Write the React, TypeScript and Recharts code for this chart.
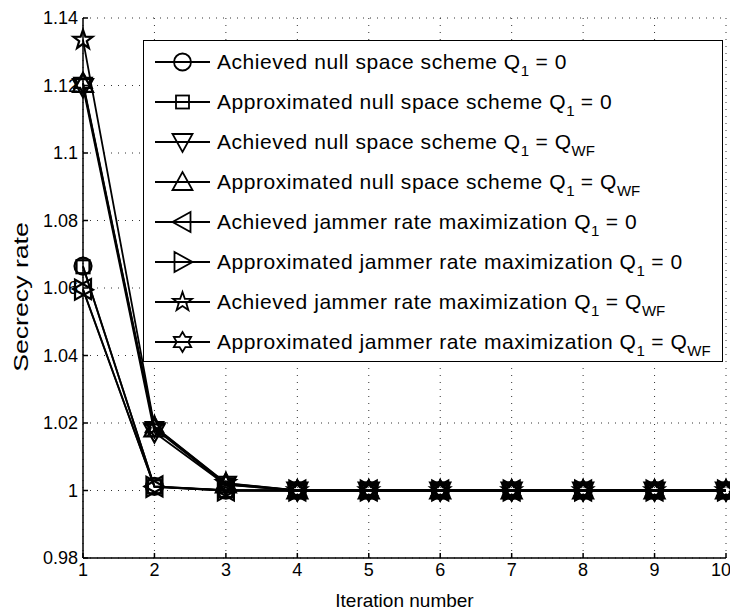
import { LineChart, Line, XAxis, YAxis, CartesianGrid, Legend } from 'recharts';

const iterations = [1, 2, 3, 4, 5, 6, 7, 8, 9, 10];

// secrecy rate per iteration, one array per curve
const achievedNullZero = [1.0665, 1.0012, 1.0001, 1, 1, 1, 1, 1, 1, 1];
const approxNullZero = [1.0663, 1.0011, 1.0, 1, 1, 1, 1, 1, 1, 1];
const achievedNullWF = [1.1195, 1.0172, 1.0017, 1, 1, 1, 1, 1, 1, 1];
const approxNullWF = [1.1205, 1.0184, 1.0018, 1, 1, 1, 1, 1, 1, 1];
const achievedJamZero = [1.0597, 1.0012, 1.0, 1, 1, 1, 1, 1, 1, 1];
const approxJamZero = [1.0595, 1.0011, 1.0, 1, 1, 1, 1, 1, 1, 1];
const achievedJamWF = [1.1335, 1.019, 1.0022, 1, 1, 1, 1, 1, 1, 1];
const approxJamWF = [1.1208, 1.0188, 1.0021, 1, 1, 1, 1, 1, 1, 1];

const yTicks = [0.98, 1, 1.02, 1.04, 1.06, 1.08, 1.1, 1.12, 1.14];

const seriesValues = [
  achievedNullZero,
  approxNullZero,
  achievedNullWF,
  approxNullWF,
  achievedJamZero,
  approxJamZero,
  achievedJamWF,
  approxJamWF,
];
const seriesNames = [
  'Achieved null space scheme',
  'Approximated null space scheme',
  'Achieved null space scheme',
  'Approximated null space scheme',
  'Achieved jammer rate maximization',
  'Approximated jammer rate maximization',
  'Achieved jammer rate maximization',
  'Approximated jammer rate maximization',
];
const seriesQ = ['0', '0', 'WF', 'WF', '0', '0', 'WF', 'WF'];
const seriesShapes = ['circle', 'square', 'down', 'up', 'left', 'right', 'pentagram', 'hexagram'];

const data = iterations.map((it, i) => {
  const row: Record<string, number> = { it };
  seriesValues.forEach((vals, k) => {
    row['s' + k] = vals[i];
  });
  return row;
});

const FONT = '"Liberation Sans", Arial, Helvetica, sans-serif';
const SW = 1.8;

function starPoints(cx: number, cy: number, n: number, ro: number, ri: number) {
  const pts: string[] = [];
  for (let i = 0; i < n * 2; i++) {
    const r = i % 2 === 0 ? ro : ri;
    const a = -Math.PI / 2 + (i * Math.PI) / n;
    pts.push(`${cx + r * Math.cos(a)},${cy + r * Math.sin(a)}`);
  }
  return pts.join(' ');
}

function Marker({ shape, cx, cy, sw = SW }: { shape: string; cx: number; cy: number; sw?: number }) {
  const st = { fill: 'none', stroke: '#000', strokeWidth: sw };
  switch (shape) {
    case 'circle':
      return <circle cx={cx} cy={cy} r={8.5} {...st} />;
    case 'square':
      return <rect x={cx - 6.5} y={cy - 6.5} width={13} height={13} {...st} />;
    case 'down':
      return <polygon points={`${cx - 10},${cy - 8} ${cx + 10},${cy - 8} ${cx},${cy + 10}`} {...st} />;
    case 'up':
      return <polygon points={`${cx - 10},${cy + 8} ${cx + 10},${cy + 8} ${cx},${cy - 10}`} {...st} />;
    case 'left':
      return <polygon points={`${cx + 8},${cy - 10} ${cx + 8},${cy + 10} ${cx - 10},${cy}`} {...st} />;
    case 'right':
      return <polygon points={`${cx - 8},${cy - 10} ${cx - 8},${cy + 10} ${cx + 10},${cy}`} {...st} />;
    case 'pentagram':
      return <polygon points={starPoints(cx, cy, 5, 10, 4)} {...st} />;
    default:
      return <polygon points={starPoints(cx, cy, 6, 10, 5.8)} {...st} />;
  }
}

const subStyle = { fontSize: 15, verticalAlign: 'baseline', position: 'relative' as const, top: 7, letterSpacing: 0 };

function LegendBox() {
  return (
    <div
      style={{
        width: 580,
        height: 322,
        boxSizing: 'border-box',
        border: '1.5px solid #000',
        background: '#fff',
        paddingTop: 1,
        fontFamily: FONT,
        fontSize: 21,
        letterSpacing: 0.55,
        color: '#000',
      }}
    >
      {seriesNames.map((name, k) => (
        <div key={k} style={{ height: 40, display: 'flex', alignItems: 'center', paddingLeft: 11 }}>
          <svg width={55} height={40} style={{ flex: 'none' }}>
            <line x1={0} x2={55} y1={20} y2={20} stroke="#000" strokeWidth={SW} />
            <Marker shape={seriesShapes[k]} cx={27.5} cy={20} />
          </svg>
          <span style={{ marginLeft: 7, whiteSpace: 'nowrap' }}>
            {name} Q<sub style={subStyle}>1</sub> ={' '}
            {seriesQ[k] === '0' ? (
              '0'
            ) : (
              <>
                Q<sub style={subStyle}>WF</sub>
              </>
            )}
          </span>
        </div>
      ))}
    </div>
  );
}

const fmt = (v: number) => String(Number(v.toFixed(2)));

function YLabel() {
  return (
    <text
      transform="translate(21,297) rotate(-90) scale(1.27,1)"
      textAnchor="middle"
      dominantBaseline="central"
      fontSize={21}
      fontFamily={FONT}
      fill="#000"
    >
      Secrecy rate
    </text>
  );
}

export default function App() {
  const tickStyle = { fill: '#000', fontSize: 18, fontFamily: FONT };
  return (
    <div style={{ position: 'absolute', left: 0, top: 0, background: '#fff' }}>
      <LineChart width={730} height={610} data={data} margin={{ top: 18, right: 4, bottom: 0, left: 0 }}>
        <CartesianGrid stroke="#333" strokeDasharray="1 6" />
        <XAxis
          dataKey="it"
          type="number"
          domain={[1, 10]}
          ticks={iterations}
          height={52}
          tickSize={-5}
          tickMargin={10}
          tick={tickStyle}
          stroke="#000"
          strokeWidth={1.5}
          label={{ value: 'Iteration number', position: 'insideBottom', offset: 3, fill: '#000', fontSize: 19, fontFamily: FONT }}
        />
        <XAxis
          xAxisId="top"
          orientation="top"
          dataKey="it"
          type="number"
          domain={[1, 10]}
          ticks={iterations}
          height={0}
          tickSize={-5}
          tick={false}
          stroke="#000"
          strokeWidth={1.5}
        />
        <YAxis
          type="number"
          domain={[0.98, 1.14]}
          ticks={yTicks}
          width={83}
          tickSize={-5}
          tickMargin={10}
          tick={tickStyle}
          tickFormatter={fmt}
          stroke="#000"
          strokeWidth={1.5}
          label={{ content: () => <YLabel /> }}
        />
        <YAxis
          yAxisId="right"
          orientation="right"
          type="number"
          domain={[0.98, 1.14]}
          ticks={yTicks}
          width={0}
          tickSize={-5}
          tick={false}
          stroke="#000"
          strokeWidth={1.5}
        />
        {seriesShapes.map((shape, k) => (
          <Line
            key={k}
            dataKey={'s' + k}
            type="linear"
            stroke="#000"
            strokeWidth={SW}
            isAnimationActive={false}
            dot={(p: any) => <Marker key={`m${k}-${p.index}`} shape={shape} cx={p.cx} cy={p.cy} sw={2.2} />}
            activeDot={false}
          />
        ))}
        <Legend
          layout="vertical"
          align="center"
          verticalAlign="middle"
          wrapperStyle={{ left: 143, top: 40, width: 580 }}
          content={() => <LegendBox />}
        />
      </LineChart>
    </div>
  );
}
